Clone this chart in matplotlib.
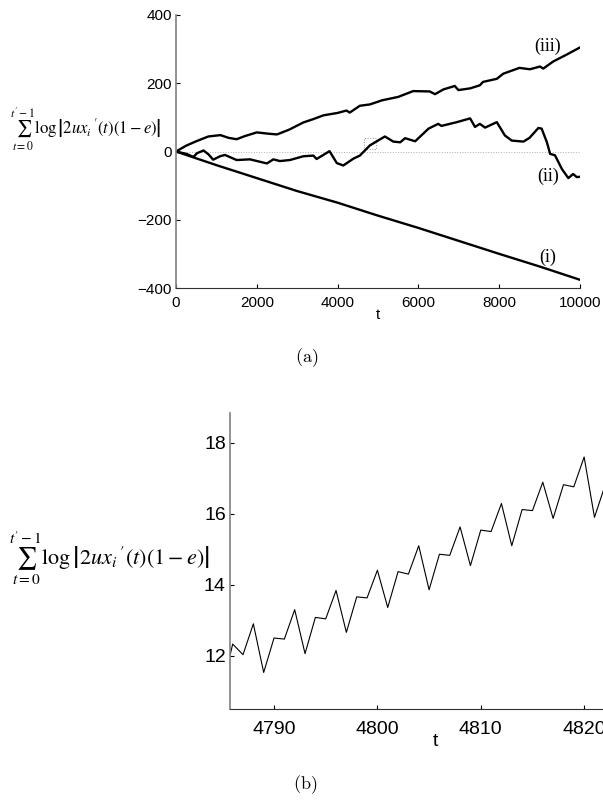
import matplotlib
matplotlib.use("Agg")
import matplotlib.pyplot as plt
from matplotlib.patches import Rectangle

# ---- data ----
# (a) cumulative sums, knots every few hundred steps
t_i = [0, 1000, 2000, 3000, 4000, 5000, 6000, 7000, 8000, 9000, 10000]
v_i = [0, -40, -78, -116, -150, -188, -224, -262, -300, -337, -376]

t_ii = [0, 260, 430, 520, 680, 800, 920, 1090, 1210, 1500, 1830, 2250, 2410, 2570,
        2820, 3150, 3400, 3480, 3800, 3980, 4140, 4390, 4550, 4800, 4970, 5170,
        5380, 5550, 5670, 5920, 6250, 6490, 6570, 6950, 7280, 7400, 7520, 7650,
        7940, 8140, 8310, 8600, 8750, 8970, 9050, 9180, 9260, 9380, 9550, 9710,
        9830, 9920, 10000]
v_ii = [0, -7, -16, -5, 3, -8, -24, -14, -10, -25, -23, -35, -23, -28,
        -25, -14, -12, -22, 1, -34, -41, -21, -12, 18, 30, 44,
        29, 27, 39, 30, 67, 81, 75, 86, 97, 72, 81, 70,
        86, 47, 32, 29, 40, 69, 67, 27, -7, -11, -51, -78,
        -66, -75, -74]

t_iii = [0, 250, 500, 800, 1100, 1300, 1500, 1700, 2000, 2300, 2500, 2800, 3150,
         3400, 3650, 4000, 4220, 4300, 4550, 4800, 5100, 5500, 5870, 6280, 6410,
         6620, 6900, 6990, 7280, 7520, 7600, 7940, 8100, 8500, 8760, 9010, 9090,
         9340, 9670, 10000]
v_iii = [0, 17, 30, 44, 48, 40, 36, 45, 56, 52, 50, 64, 85,
         95, 106, 113, 120, 114, 134, 138, 150, 160, 177, 176, 168,
         182, 192, 180, 185, 194, 204, 213, 228, 245, 241, 249, 243,
         264, 284, 305]

zoom_t = (4660, 4950)
zoom_v = (8, 39)

# (b) close-up, one value per step
t_b = list(range(4785, 4823))
v_b = [11.06, 12.33, 12.03, 12.90, 11.53, 12.50, 12.47, 13.30, 12.06, 13.08,
       13.04, 13.84, 12.66, 13.66, 13.63, 14.41, 13.36, 14.37, 14.30, 15.10,
       13.86, 14.86, 14.83, 15.63, 14.54, 15.54, 15.50, 16.29, 15.10, 16.12,
       16.09, 16.89, 15.87, 16.82, 16.76, 17.60, 15.90, 16.78]

ylab = r"$\sum_{t=0}^{t'-1}\log\left|2ux_i\,\mathrm{'}(t)(1-e)\right|$"

fig = plt.figure(figsize=(6.03, 8), dpi=100)
plt.rcParams['font.family'] = ['Liberation Sans', 'DejaVu Sans']

def style(ax, size, xpad):
    ax.spines['top'].set_visible(False)
    ax.spines['right'].set_visible(False)
    ax.spines['left'].set_color('#808080')
    ax.spines['left'].set_linewidth(1.2)
    ax.spines['bottom'].set_color('#303030')
    ax.tick_params(direction='in', length=3, labelsize=size, pad=3)
    ax.tick_params(axis='x', pad=xpad)

# ---- (a) ----
ax1 = fig.add_axes([0.2919, 0.64, 0.670, 0.34125])
ax1.axhline(0, color='#b0b0b0', lw=0.7, ls=':')
ax1.add_patch(Rectangle((zoom_t[0], zoom_v[0]), zoom_t[1] - zoom_t[0], zoom_v[1] - zoom_v[0],
                        fill=False, ec='#909090', lw=0.7, ls=':'))
ax1.plot(t_i, v_i, color='black', lw=1.7)
ax1.plot(t_ii, v_ii, color='black', lw=1.7)
ax1.plot(t_iii, v_iii, color='black', lw=1.7)
ax1.set_xlim(0, 10000)
ax1.set_ylim(-400, 400)
ax1.set_xticks([0, 2000, 4000, 6000, 8000, 10000])
ax1.set_yticks([-400, -200, 0, 200, 400])
style(ax1, 11, 6)
ax1.set_xlabel('t', fontsize=11, labelpad=-2)
for lab, tt, vv in [('(i)', 9200, -310), ('(ii)', 9200, -72), ('(iii)', 9200, 308)]:
    ax1.text(tt, vv, lab, fontsize=13, family='Liberation Serif', ha='center', va='center')
fig.text(0.143, 0.838, ylab, fontsize=12, math_fontfamily='stix', ha='center', va='center')
fig.text(0.509, 0.5525, r'$\mathrm{(a)}$', fontsize=13, math_fontfamily='cm', ha='center', va='center')

# ---- (b) ----
ax2 = fig.add_axes([0.3814, 0.11375, 0.6816, 0.37])
ax2.plot(t_b, v_b, color='black', lw=0.8)
ax2.set_xlim(4785.74, 4825.5)
ax2.set_ylim(10.5, 18.84)
ax2.set_xticks([4790, 4800, 4810, 4820])
ax2.set_yticks([12, 14, 16, 18])
style(ax2, 14, 9)
ax2.set_xlabel('t', fontsize=14, labelpad=-4)
fig.text(0.181, 0.303, ylab, fontsize=16, math_fontfamily='stix', ha='center', va='center')
fig.text(0.506, 0.019, r'$\mathrm{(b)}$', fontsize=13, math_fontfamily='cm', ha='center', va='center')

fig.savefig('out.png', dpi=100)
